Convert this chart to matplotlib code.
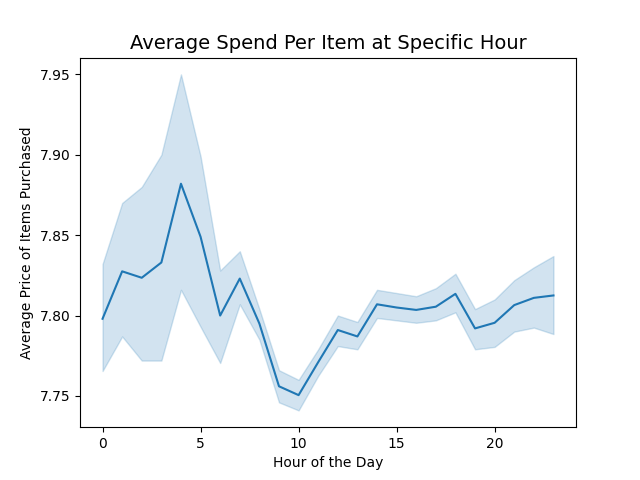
import numpy as np
import matplotlib.pyplot as plt

hours = np.arange(24)
mean = [7.798, 7.8275, 7.8235, 7.833, 7.882, 7.849, 7.800, 7.823, 7.795, 7.756,
        7.7505, 7.771, 7.791, 7.787, 7.807, 7.805, 7.8035, 7.8055, 7.8135, 7.792,
        7.7955, 7.8065, 7.811, 7.8125]
upper = [7.832, 7.870, 7.880, 7.900, 7.950, 7.899, 7.828, 7.840, 7.804, 7.766,
         7.760, 7.779, 7.800, 7.796, 7.816, 7.814, 7.812, 7.817, 7.826, 7.804,
         7.810, 7.822, 7.830, 7.837]
lower = [7.7655, 7.787, 7.772, 7.772, 7.816, 7.793, 7.7705, 7.807, 7.785, 7.746,
         7.741, 7.7625, 7.781, 7.779, 7.7985, 7.797, 7.7955, 7.797, 7.802, 7.779,
         7.7805, 7.790, 7.7925, 7.7885]

fig, ax = plt.subplots(figsize=(6.4, 4.8), dpi=100)
ax.fill_between(hours, lower, upper, color='#1f77b4', alpha=0.2)
ax.plot(hours, mean, color='#1f77b4', lw=1.5)
ax.set_xticks([0, 5, 10, 15, 20])
ax.set_title('Average Spend Per Item at Specific Hour', fontsize=14)
ax.set_xlabel('Hour of the Day')
ax.set_ylabel('Average Price of Items Purchased')
fig.savefig('out.png')
